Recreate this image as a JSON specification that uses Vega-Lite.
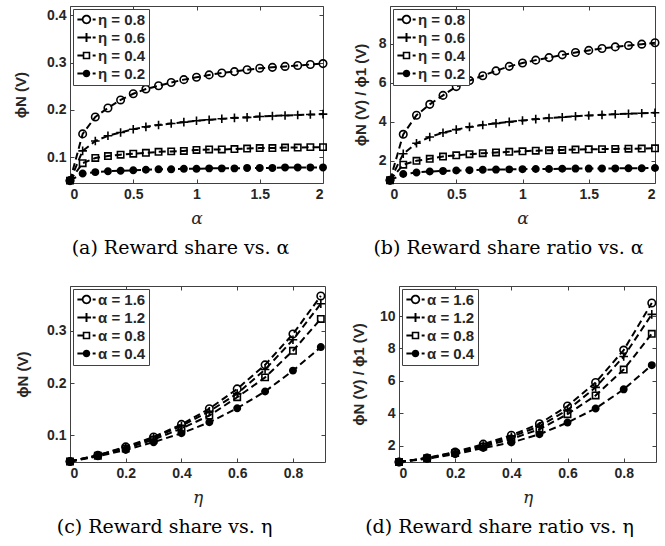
{
  "$schema": "https://vega.github.io/schema/vega-lite/v6.json",
  "padding": {"left": 12, "top": 5, "right": 5, "bottom": 0},
  "datasets": {
    "a": [
      {"x":0,"y":0.05,"s":"η = 0.8"},{"x":0.1,"y":0.149,"s":"η = 0.8"},{"x":0.2,"y":0.185,"s":"η = 0.8"},{"x":0.3,"y":0.204,"s":"η = 0.8"},{"x":0.4,"y":0.221,"s":"η = 0.8"},{"x":0.5,"y":0.234,"s":"η = 0.8"},{"x":0.6,"y":0.244,"s":"η = 0.8"},{"x":0.7,"y":0.251,"s":"η = 0.8"},{"x":0.8,"y":0.258,"s":"η = 0.8"},{"x":0.9,"y":0.264,"s":"η = 0.8"},{"x":1.0,"y":0.269,"s":"η = 0.8"},{"x":1.1,"y":0.274,"s":"η = 0.8"},{"x":1.2,"y":0.278,"s":"η = 0.8"},{"x":1.3,"y":0.281,"s":"η = 0.8"},{"x":1.4,"y":0.285,"s":"η = 0.8"},{"x":1.5,"y":0.288,"s":"η = 0.8"},{"x":1.6,"y":0.29,"s":"η = 0.8"},{"x":1.7,"y":0.292,"s":"η = 0.8"},{"x":1.8,"y":0.294,"s":"η = 0.8"},{"x":1.9,"y":0.296,"s":"η = 0.8"},{"x":2.0,"y":0.298,"s":"η = 0.8"},
      {"x":0,"y":0.05,"s":"η = 0.6"},{"x":0.1,"y":0.113,"s":"η = 0.6"},{"x":0.2,"y":0.134,"s":"η = 0.6"},{"x":0.3,"y":0.145,"s":"η = 0.6"},{"x":0.4,"y":0.152,"s":"η = 0.6"},{"x":0.5,"y":0.159,"s":"η = 0.6"},{"x":0.6,"y":0.164,"s":"η = 0.6"},{"x":0.7,"y":0.168,"s":"η = 0.6"},{"x":0.8,"y":0.171,"s":"η = 0.6"},{"x":0.9,"y":0.174,"s":"η = 0.6"},{"x":1.0,"y":0.177,"s":"η = 0.6"},{"x":1.1,"y":0.179,"s":"η = 0.6"},{"x":1.2,"y":0.181,"s":"η = 0.6"},{"x":1.3,"y":0.183,"s":"η = 0.6"},{"x":1.4,"y":0.184,"s":"η = 0.6"},{"x":1.5,"y":0.186,"s":"η = 0.6"},{"x":1.6,"y":0.187,"s":"η = 0.6"},{"x":1.7,"y":0.188,"s":"η = 0.6"},{"x":1.8,"y":0.189,"s":"η = 0.6"},{"x":1.9,"y":0.19,"s":"η = 0.6"},{"x":2.0,"y":0.191,"s":"η = 0.6"},
      {"x":0,"y":0.05,"s":"η = 0.4"},{"x":0.1,"y":0.087,"s":"η = 0.4"},{"x":0.2,"y":0.098,"s":"η = 0.4"},{"x":0.3,"y":0.102,"s":"η = 0.4"},{"x":0.4,"y":0.105,"s":"η = 0.4"},{"x":0.5,"y":0.107,"s":"η = 0.4"},{"x":0.6,"y":0.109,"s":"η = 0.4"},{"x":0.7,"y":0.111,"s":"η = 0.4"},{"x":0.8,"y":0.112,"s":"η = 0.4"},{"x":0.9,"y":0.113,"s":"η = 0.4"},{"x":1.0,"y":0.115,"s":"η = 0.4"},{"x":1.1,"y":0.116,"s":"η = 0.4"},{"x":1.2,"y":0.116,"s":"η = 0.4"},{"x":1.3,"y":0.117,"s":"η = 0.4"},{"x":1.4,"y":0.118,"s":"η = 0.4"},{"x":1.5,"y":0.119,"s":"η = 0.4"},{"x":1.6,"y":0.119,"s":"η = 0.4"},{"x":1.7,"y":0.12,"s":"η = 0.4"},{"x":1.8,"y":0.12,"s":"η = 0.4"},{"x":1.9,"y":0.121,"s":"η = 0.4"},{"x":2.0,"y":0.121,"s":"η = 0.4"},
      {"x":0,"y":0.05,"s":"η = 0.2"},{"x":0.1,"y":0.065,"s":"η = 0.2"},{"x":0.2,"y":0.068,"s":"η = 0.2"},{"x":0.3,"y":0.07,"s":"η = 0.2"},{"x":0.4,"y":0.071,"s":"η = 0.2"},{"x":0.5,"y":0.072,"s":"η = 0.2"},{"x":0.6,"y":0.073,"s":"η = 0.2"},{"x":0.7,"y":0.074,"s":"η = 0.2"},{"x":0.8,"y":0.074,"s":"η = 0.2"},{"x":0.9,"y":0.075,"s":"η = 0.2"},{"x":1.0,"y":0.075,"s":"η = 0.2"},{"x":1.1,"y":0.076,"s":"η = 0.2"},{"x":1.2,"y":0.076,"s":"η = 0.2"},{"x":1.3,"y":0.076,"s":"η = 0.2"},{"x":1.4,"y":0.077,"s":"η = 0.2"},{"x":1.5,"y":0.077,"s":"η = 0.2"},{"x":1.6,"y":0.077,"s":"η = 0.2"},{"x":1.7,"y":0.078,"s":"η = 0.2"},{"x":1.8,"y":0.078,"s":"η = 0.2"},{"x":1.9,"y":0.078,"s":"η = 0.2"},{"x":2.0,"y":0.078,"s":"η = 0.2"}
    ],
    "b": [
      {"x":0,"y":1,"s":"η = 0.8"},{"x":0.1,"y":3.36,"s":"η = 0.8"},{"x":0.2,"y":4.34,"s":"η = 0.8"},{"x":0.3,"y":4.9,"s":"η = 0.8"},{"x":0.4,"y":5.36,"s":"η = 0.8"},{"x":0.5,"y":5.81,"s":"η = 0.8"},{"x":0.6,"y":6.12,"s":"η = 0.8"},{"x":0.7,"y":6.37,"s":"η = 0.8"},{"x":0.8,"y":6.62,"s":"η = 0.8"},{"x":0.9,"y":6.85,"s":"η = 0.8"},{"x":1.0,"y":7.02,"s":"η = 0.8"},{"x":1.1,"y":7.17,"s":"η = 0.8"},{"x":1.2,"y":7.3,"s":"η = 0.8"},{"x":1.3,"y":7.44,"s":"η = 0.8"},{"x":1.4,"y":7.56,"s":"η = 0.8"},{"x":1.5,"y":7.67,"s":"η = 0.8"},{"x":1.6,"y":7.77,"s":"η = 0.8"},{"x":1.7,"y":7.85,"s":"η = 0.8"},{"x":1.8,"y":7.92,"s":"η = 0.8"},{"x":1.9,"y":7.99,"s":"η = 0.8"},{"x":2.0,"y":8.06,"s":"η = 0.8"},
      {"x":0,"y":1,"s":"η = 0.6"},{"x":0.1,"y":2.36,"s":"η = 0.6"},{"x":0.2,"y":2.9,"s":"η = 0.6"},{"x":0.3,"y":3.22,"s":"η = 0.6"},{"x":0.4,"y":3.44,"s":"η = 0.6"},{"x":0.5,"y":3.6,"s":"η = 0.6"},{"x":0.6,"y":3.74,"s":"η = 0.6"},{"x":0.7,"y":3.84,"s":"η = 0.6"},{"x":0.8,"y":3.92,"s":"η = 0.6"},{"x":0.9,"y":4.0,"s":"η = 0.6"},{"x":1.0,"y":4.07,"s":"η = 0.6"},{"x":1.1,"y":4.14,"s":"η = 0.6"},{"x":1.2,"y":4.2,"s":"η = 0.6"},{"x":1.3,"y":4.24,"s":"η = 0.6"},{"x":1.4,"y":4.29,"s":"η = 0.6"},{"x":1.5,"y":4.33,"s":"η = 0.6"},{"x":1.6,"y":4.36,"s":"η = 0.6"},{"x":1.7,"y":4.39,"s":"η = 0.6"},{"x":1.8,"y":4.42,"s":"η = 0.6"},{"x":1.9,"y":4.44,"s":"η = 0.6"},{"x":2.0,"y":4.47,"s":"η = 0.6"},
      {"x":0,"y":1,"s":"η = 0.4"},{"x":0.1,"y":1.8,"s":"η = 0.4"},{"x":0.2,"y":2.0,"s":"η = 0.4"},{"x":0.3,"y":2.1,"s":"η = 0.4"},{"x":0.4,"y":2.22,"s":"η = 0.4"},{"x":0.5,"y":2.28,"s":"η = 0.4"},{"x":0.6,"y":2.34,"s":"η = 0.4"},{"x":0.7,"y":2.39,"s":"η = 0.4"},{"x":0.8,"y":2.43,"s":"η = 0.4"},{"x":0.9,"y":2.46,"s":"η = 0.4"},{"x":1.0,"y":2.49,"s":"η = 0.4"},{"x":1.1,"y":2.52,"s":"η = 0.4"},{"x":1.2,"y":2.54,"s":"η = 0.4"},{"x":1.3,"y":2.56,"s":"η = 0.4"},{"x":1.4,"y":2.58,"s":"η = 0.4"},{"x":1.5,"y":2.59,"s":"η = 0.4"},{"x":1.6,"y":2.6,"s":"η = 0.4"},{"x":1.7,"y":2.61,"s":"η = 0.4"},{"x":1.8,"y":2.62,"s":"η = 0.4"},{"x":1.9,"y":2.63,"s":"η = 0.4"},{"x":2.0,"y":2.64,"s":"η = 0.4"},
      {"x":0,"y":1,"s":"η = 0.2"},{"x":0.1,"y":1.32,"s":"η = 0.2"},{"x":0.2,"y":1.4,"s":"η = 0.2"},{"x":0.3,"y":1.45,"s":"η = 0.2"},{"x":0.4,"y":1.48,"s":"η = 0.2"},{"x":0.5,"y":1.5,"s":"η = 0.2"},{"x":0.6,"y":1.52,"s":"η = 0.2"},{"x":0.7,"y":1.54,"s":"η = 0.2"},{"x":0.8,"y":1.55,"s":"η = 0.2"},{"x":0.9,"y":1.56,"s":"η = 0.2"},{"x":1.0,"y":1.57,"s":"η = 0.2"},{"x":1.1,"y":1.58,"s":"η = 0.2"},{"x":1.2,"y":1.58,"s":"η = 0.2"},{"x":1.3,"y":1.59,"s":"η = 0.2"},{"x":1.4,"y":1.6,"s":"η = 0.2"},{"x":1.5,"y":1.6,"s":"η = 0.2"},{"x":1.6,"y":1.61,"s":"η = 0.2"},{"x":1.7,"y":1.61,"s":"η = 0.2"},{"x":1.8,"y":1.62,"s":"η = 0.2"},{"x":1.9,"y":1.62,"s":"η = 0.2"},{"x":2.0,"y":1.63,"s":"η = 0.2"}
    ],
    "c": [
      {"x":0,"y":0.05,"s":"α = 1.6"},{"x":0.1,"y":0.062,"s":"α = 1.6"},{"x":0.2,"y":0.078,"s":"α = 1.6"},{"x":0.3,"y":0.097,"s":"α = 1.6"},{"x":0.4,"y":0.121,"s":"α = 1.6"},{"x":0.5,"y":0.151,"s":"α = 1.6"},{"x":0.6,"y":0.189,"s":"α = 1.6"},{"x":0.7,"y":0.235,"s":"α = 1.6"},{"x":0.8,"y":0.294,"s":"α = 1.6"},{"x":0.9,"y":0.367,"s":"α = 1.6"},
      {"x":0,"y":0.05,"s":"α = 1.2"},{"x":0.1,"y":0.062,"s":"α = 1.2"},{"x":0.2,"y":0.077,"s":"α = 1.2"},{"x":0.3,"y":0.095,"s":"α = 1.2"},{"x":0.4,"y":0.118,"s":"α = 1.2"},{"x":0.5,"y":0.146,"s":"α = 1.2"},{"x":0.6,"y":0.18,"s":"α = 1.2"},{"x":0.7,"y":0.226,"s":"α = 1.2"},{"x":0.8,"y":0.283,"s":"α = 1.2"},{"x":0.9,"y":0.352,"s":"α = 1.2"},
      {"x":0,"y":0.05,"s":"α = 0.8"},{"x":0.1,"y":0.061,"s":"α = 0.8"},{"x":0.2,"y":0.075,"s":"α = 0.8"},{"x":0.3,"y":0.092,"s":"α = 0.8"},{"x":0.4,"y":0.113,"s":"α = 0.8"},{"x":0.5,"y":0.138,"s":"α = 0.8"},{"x":0.6,"y":0.173,"s":"α = 0.8"},{"x":0.7,"y":0.211,"s":"α = 0.8"},{"x":0.8,"y":0.262,"s":"α = 0.8"},{"x":0.9,"y":0.323,"s":"α = 0.8"},
      {"x":0,"y":0.05,"s":"α = 0.4"},{"x":0.1,"y":0.06,"s":"α = 0.4"},{"x":0.2,"y":0.072,"s":"α = 0.4"},{"x":0.3,"y":0.087,"s":"α = 0.4"},{"x":0.4,"y":0.104,"s":"α = 0.4"},{"x":0.5,"y":0.125,"s":"α = 0.4"},{"x":0.6,"y":0.152,"s":"α = 0.4"},{"x":0.7,"y":0.184,"s":"α = 0.4"},{"x":0.8,"y":0.224,"s":"α = 0.4"},{"x":0.9,"y":0.269,"s":"α = 0.4"}
    ],
    "d": [
      {"x":0,"y":1,"s":"α = 1.6"},{"x":0.1,"y":1.25,"s":"α = 1.6"},{"x":0.2,"y":1.62,"s":"α = 1.6"},{"x":0.3,"y":2.1,"s":"α = 1.6"},{"x":0.4,"y":2.65,"s":"α = 1.6"},{"x":0.5,"y":3.36,"s":"α = 1.6"},{"x":0.6,"y":4.45,"s":"α = 1.6"},{"x":0.7,"y":5.9,"s":"α = 1.6"},{"x":0.8,"y":7.9,"s":"α = 1.6"},{"x":0.9,"y":10.8,"s":"α = 1.6"},
      {"x":0,"y":1,"s":"α = 1.2"},{"x":0.1,"y":1.24,"s":"α = 1.2"},{"x":0.2,"y":1.58,"s":"α = 1.2"},{"x":0.3,"y":2.02,"s":"α = 1.2"},{"x":0.4,"y":2.55,"s":"α = 1.2"},{"x":0.5,"y":3.2,"s":"α = 1.2"},{"x":0.6,"y":4.2,"s":"α = 1.2"},{"x":0.7,"y":5.6,"s":"α = 1.2"},{"x":0.8,"y":7.5,"s":"α = 1.2"},{"x":0.9,"y":10.1,"s":"α = 1.2"},
      {"x":0,"y":1,"s":"α = 0.8"},{"x":0.1,"y":1.23,"s":"α = 0.8"},{"x":0.2,"y":1.55,"s":"α = 0.8"},{"x":0.3,"y":1.95,"s":"α = 0.8"},{"x":0.4,"y":2.42,"s":"α = 0.8"},{"x":0.5,"y":3.02,"s":"α = 0.8"},{"x":0.6,"y":3.95,"s":"α = 0.8"},{"x":0.7,"y":5.1,"s":"α = 0.8"},{"x":0.8,"y":6.7,"s":"α = 0.8"},{"x":0.9,"y":8.9,"s":"α = 0.8"},
      {"x":0,"y":1,"s":"α = 0.4"},{"x":0.1,"y":1.2,"s":"α = 0.4"},{"x":0.2,"y":1.48,"s":"α = 0.4"},{"x":0.3,"y":1.86,"s":"α = 0.4"},{"x":0.4,"y":2.2,"s":"α = 0.4"},{"x":0.5,"y":2.71,"s":"α = 0.4"},{"x":0.6,"y":3.43,"s":"α = 0.4"},{"x":0.7,"y":4.3,"s":"α = 0.4"},{"x":0.8,"y":5.48,"s":"α = 0.4"},{"x":0.9,"y":6.97,"s":"α = 0.4"}
    ]
  },
  "vconcat": [
    {
      "bounds": "flush",
      "spacing": 67,
      "hconcat": [
        {
          "width": 253, "height": 177,
          "data": {"name": "a"},
          "title": {"text": "(a) Reward share vs. α", "orient": "bottom", "frame": "group", "anchor": "middle", "dx": -16, "offset": 13},
          "layer": [
            {"mark": {"type": "line", "color": "black", "strokeWidth": 2, "strokeDash": [7, 4]},
             "encoding": {
               "x": {"field": "x", "type": "quantitative", "scale": {"domain": [0, 2], "nice": false, "zero": false}, "axis": {"values": [0, 0.5, 1, 1.5, 2], "format": "~g", "title": "α"}},
               "y": {"field": "y", "type": "quantitative", "scale": {"domain": [0.045, 0.42], "nice": false, "zero": false}, "axis": {"values": [0.1, 0.2, 0.3, 0.4], "format": ".1f", "title": "ϕN (V)", "minExtent": 30, "maxExtent": 30, "titlePadding": 12}},
               "detail": {"field": "s", "type": "nominal"}
             }},
            {"mark": {"type": "point", "filled": true, "fill": "black", "stroke": "black", "strokeWidth": 1.6, "size": 56, "opacity": 1},
             "encoding": {
               "x": {"field": "x", "type": "quantitative", "axis": {"orient": "top", "values": [0, 0.5, 1, 1.5, 2], "labels": false, "title": null}},
               "y": {"field": "y", "type": "quantitative", "axis": {"orient": "right", "values": [0.1, 0.2, 0.3, 0.4], "labels": false, "title": null}},
               "shape": {"field": "s", "type": "nominal", "scale": {"domain": ["η = 0.8", "η = 0.6", "η = 0.4", "η = 0.2"], "range": ["M-1,0A1,1 0 1,1 1,0A1,1 0 1,1 -1,0ZM-1,0A1,1 0 1,0 1,0A1,1 0 1,0 -1,0Z", "M-1.15,0H1.15M0,-1.15V1.15", "M-0.85,-0.85H0.85V0.85H-0.85ZM-0.85,-0.85V0.85H0.85V-0.85Z", "M-0.85,0A0.85,0.85 0 1,1 0.85,0A0.85,0.85 0 1,1 -0.85,0Z"]}, "legend": null}
             }},
            {"data": {"values": []},
             "mark": {"type": "point", "filled": true, "fill": "black", "strokeWidth": 0},
             "encoding": {
               "shape": {"field": "s", "type": "nominal", "scale": {"domain": ["η = 0.8", "η = 0.6", "η = 0.4", "η = 0.2"], "range": ["M-1.4,-0.15H-0.62V0.15H-1.4ZM-0.72,0A0.72,0.72 0 1,1 0.72,0A0.72,0.72 0 1,1 -0.72,0ZM-0.46,0A0.46,0.46 0 1,0 0.46,0A0.46,0.46 0 1,0 -0.46,0ZM0.95,-0.15H1.4V0.15H0.95Z", "M-1.4,-0.15H0.7V0.15H-1.4ZM-0.15,-0.7H0.15V0.7H-0.15ZM0.95,-0.15H1.4V0.15H0.95Z", "M-1.4,-0.15H-0.55V0.15H-1.4ZM-0.58,-0.58H0.58V0.58H-0.58ZM-0.33,-0.33V0.33H0.33V-0.33ZM0.95,-0.15H1.4V0.15H0.95Z", "M-1.4,-0.15H-0.5V0.15H-1.4ZM-0.58,0A0.58,0.58 0 1,1 0.58,0A0.58,0.58 0 1,1 -0.58,0ZM0.95,-0.15H1.4V0.15H0.95Z"]}, "legend": {"title": null}}
             }}
          ],
          "resolve": {"scale": {"shape": "independent"}, "axis": {"x": "independent", "y": "independent"}}
        },
        {
          "width": 265, "height": 177,
          "data": {"name": "b"},
          "title": {"text": "(b) Reward share ratio vs. α", "orient": "bottom", "frame": "group", "anchor": "middle", "dx": -14, "offset": 13},
          "layer": [
            {"mark": {"type": "line", "color": "black", "strokeWidth": 2, "strokeDash": [7, 4]},
             "encoding": {
               "x": {"field": "x", "type": "quantitative", "scale": {"domain": [0, 2], "nice": false, "zero": false}, "axis": {"values": [0, 0.5, 1, 1.5, 2], "format": "~g", "title": "α"}},
               "y": {"field": "y", "type": "quantitative", "scale": {"domain": [0.86, 9.95], "nice": false, "zero": false}, "axis": {"values": [2, 4, 6, 8], "format": "d", "title": "ϕN (V) / ϕ1 (V)", "minExtent": 13, "maxExtent": 13, "titlePadding": 9}},
               "detail": {"field": "s", "type": "nominal"}
             }},
            {"mark": {"type": "point", "filled": true, "fill": "black", "stroke": "black", "strokeWidth": 1.6, "size": 56, "opacity": 1},
             "encoding": {
               "x": {"field": "x", "type": "quantitative", "axis": {"orient": "top", "values": [0, 0.5, 1, 1.5, 2], "labels": false, "title": null}},
               "y": {"field": "y", "type": "quantitative", "axis": {"orient": "right", "values": [2, 4, 6, 8], "labels": false, "title": null}},
               "shape": {"field": "s", "type": "nominal", "scale": {"domain": ["η = 0.8", "η = 0.6", "η = 0.4", "η = 0.2"], "range": ["M-1,0A1,1 0 1,1 1,0A1,1 0 1,1 -1,0ZM-1,0A1,1 0 1,0 1,0A1,1 0 1,0 -1,0Z", "M-1.15,0H1.15M0,-1.15V1.15", "M-0.85,-0.85H0.85V0.85H-0.85ZM-0.85,-0.85V0.85H0.85V-0.85Z", "M-0.85,0A0.85,0.85 0 1,1 0.85,0A0.85,0.85 0 1,1 -0.85,0Z"]}, "legend": null}
             }},
            {"data": {"values": []},
             "mark": {"type": "point", "filled": true, "fill": "black", "strokeWidth": 0},
             "encoding": {
               "shape": {"field": "s", "type": "nominal", "scale": {"domain": ["η = 0.8", "η = 0.6", "η = 0.4", "η = 0.2"], "range": ["M-1.4,-0.15H-0.62V0.15H-1.4ZM-0.72,0A0.72,0.72 0 1,1 0.72,0A0.72,0.72 0 1,1 -0.72,0ZM-0.46,0A0.46,0.46 0 1,0 0.46,0A0.46,0.46 0 1,0 -0.46,0ZM0.95,-0.15H1.4V0.15H0.95Z", "M-1.4,-0.15H0.7V0.15H-1.4ZM-0.15,-0.7H0.15V0.7H-0.15ZM0.95,-0.15H1.4V0.15H0.95Z", "M-1.4,-0.15H-0.55V0.15H-1.4ZM-0.58,-0.58H0.58V0.58H-0.58ZM-0.33,-0.33V0.33H0.33V-0.33ZM0.95,-0.15H1.4V0.15H0.95Z", "M-1.4,-0.15H-0.5V0.15H-1.4ZM-0.58,0A0.58,0.58 0 1,1 0.58,0A0.58,0.58 0 1,1 -0.58,0ZM0.95,-0.15H1.4V0.15H0.95Z"]}, "legend": {"title": null}}
             }}
          ],
          "resolve": {"scale": {"shape": "independent"}, "axis": {"x": "independent", "y": "independent"}}
        }
      ]
    },
    {
      "bounds": "flush",
      "spacing": 74,
      "hconcat": [
        {
          "width": 255, "height": 176,
          "data": {"name": "c"},
          "title": {"text": "(c) Reward share vs. η", "orient": "bottom", "frame": "group", "anchor": "middle", "dx": -33, "offset": 13},
          "layer": [
            {"mark": {"type": "line", "color": "black", "strokeWidth": 2, "strokeDash": [7, 4]},
             "encoding": {
               "x": {"field": "x", "type": "quantitative", "scale": {"domain": [0, 0.915], "nice": false, "zero": false}, "axis": {"values": [0, 0.2, 0.4, 0.6, 0.8], "format": "~g", "title": "η"}},
               "y": {"field": "y", "type": "quantitative", "scale": {"domain": [0.049, 0.386], "nice": false, "zero": false}, "axis": {"values": [0.1, 0.2, 0.3], "format": ".1f", "title": "ϕN (V)", "minExtent": 30, "maxExtent": 30, "titlePadding": 10}},
               "detail": {"field": "s", "type": "nominal"}
             }},
            {"mark": {"type": "point", "filled": true, "fill": "black", "stroke": "black", "strokeWidth": 1.6, "size": 56, "opacity": 1},
             "encoding": {
               "x": {"field": "x", "type": "quantitative", "axis": {"orient": "top", "values": [0, 0.2, 0.4, 0.6, 0.8], "labels": false, "title": null}},
               "y": {"field": "y", "type": "quantitative", "axis": {"orient": "right", "values": [0.1, 0.2, 0.3], "labels": false, "title": null}},
               "shape": {"field": "s", "type": "nominal", "scale": {"domain": ["α = 1.6", "α = 1.2", "α = 0.8", "α = 0.4"], "range": ["M-1,0A1,1 0 1,1 1,0A1,1 0 1,1 -1,0ZM-1,0A1,1 0 1,0 1,0A1,1 0 1,0 -1,0Z", "M-1.15,0H1.15M0,-1.15V1.15", "M-0.85,-0.85H0.85V0.85H-0.85ZM-0.85,-0.85V0.85H0.85V-0.85Z", "M-0.85,0A0.85,0.85 0 1,1 0.85,0A0.85,0.85 0 1,1 -0.85,0Z"]}, "legend": null}
             }},
            {"data": {"values": []},
             "mark": {"type": "point", "filled": true, "fill": "black", "strokeWidth": 0},
             "encoding": {
               "shape": {"field": "s", "type": "nominal", "scale": {"domain": ["α = 1.6", "α = 1.2", "α = 0.8", "α = 0.4"], "range": ["M-1.4,-0.15H-0.62V0.15H-1.4ZM-0.72,0A0.72,0.72 0 1,1 0.72,0A0.72,0.72 0 1,1 -0.72,0ZM-0.46,0A0.46,0.46 0 1,0 0.46,0A0.46,0.46 0 1,0 -0.46,0ZM0.95,-0.15H1.4V0.15H0.95Z", "M-1.4,-0.15H0.7V0.15H-1.4ZM-0.15,-0.7H0.15V0.7H-0.15ZM0.95,-0.15H1.4V0.15H0.95Z", "M-1.4,-0.15H-0.55V0.15H-1.4ZM-0.58,-0.58H0.58V0.58H-0.58ZM-0.33,-0.33V0.33H0.33V-0.33ZM0.95,-0.15H1.4V0.15H0.95Z", "M-1.4,-0.15H-0.5V0.15H-1.4ZM-0.58,0A0.58,0.58 0 1,1 0.58,0A0.58,0.58 0 1,1 -0.58,0ZM0.95,-0.15H1.4V0.15H0.95Z"]}, "legend": {"title": null}}
             }}
          ],
          "resolve": {"scale": {"shape": "independent"}, "axis": {"x": "independent", "y": "independent"}}
        },
        {
          "width": 257, "height": 176,
          "data": {"name": "d"},
          "title": {"text": "(d) Reward share ratio vs. η", "orient": "bottom", "frame": "group", "anchor": "middle", "dx": -28, "offset": 13},
          "layer": [
            {"mark": {"type": "line", "color": "black", "strokeWidth": 2, "strokeDash": [7, 4]},
             "encoding": {
               "x": {"field": "x", "type": "quantitative", "scale": {"domain": [0, 0.915], "nice": false, "zero": false}, "axis": {"values": [0, 0.2, 0.4, 0.6, 0.8], "format": "~g", "title": "η"}},
               "y": {"field": "y", "type": "quantitative", "scale": {"domain": [1, 11.85], "nice": false, "zero": false}, "axis": {"values": [2, 4, 6, 8, 10], "format": "d", "title": "ϕN (V) / ϕ1 (V)", "minExtent": 21, "maxExtent": 21, "titlePadding": 12}},
               "detail": {"field": "s", "type": "nominal"}
             }},
            {"mark": {"type": "point", "filled": true, "fill": "black", "stroke": "black", "strokeWidth": 1.6, "size": 56, "opacity": 1},
             "encoding": {
               "x": {"field": "x", "type": "quantitative", "axis": {"orient": "top", "values": [0, 0.2, 0.4, 0.6, 0.8], "labels": false, "title": null}},
               "y": {"field": "y", "type": "quantitative", "axis": {"orient": "right", "values": [2, 4, 6, 8, 10], "labels": false, "title": null}},
               "shape": {"field": "s", "type": "nominal", "scale": {"domain": ["α = 1.6", "α = 1.2", "α = 0.8", "α = 0.4"], "range": ["M-1,0A1,1 0 1,1 1,0A1,1 0 1,1 -1,0ZM-1,0A1,1 0 1,0 1,0A1,1 0 1,0 -1,0Z", "M-1.15,0H1.15M0,-1.15V1.15", "M-0.85,-0.85H0.85V0.85H-0.85ZM-0.85,-0.85V0.85H0.85V-0.85Z", "M-0.85,0A0.85,0.85 0 1,1 0.85,0A0.85,0.85 0 1,1 -0.85,0Z"]}, "legend": null}
             }},
            {"data": {"values": []},
             "mark": {"type": "point", "filled": true, "fill": "black", "strokeWidth": 0},
             "encoding": {
               "shape": {"field": "s", "type": "nominal", "scale": {"domain": ["α = 1.6", "α = 1.2", "α = 0.8", "α = 0.4"], "range": ["M-1.4,-0.15H-0.62V0.15H-1.4ZM-0.72,0A0.72,0.72 0 1,1 0.72,0A0.72,0.72 0 1,1 -0.72,0ZM-0.46,0A0.46,0.46 0 1,0 0.46,0A0.46,0.46 0 1,0 -0.46,0ZM0.95,-0.15H1.4V0.15H0.95Z", "M-1.4,-0.15H0.7V0.15H-1.4ZM-0.15,-0.7H0.15V0.7H-0.15ZM0.95,-0.15H1.4V0.15H0.95Z", "M-1.4,-0.15H-0.55V0.15H-1.4ZM-0.58,-0.58H0.58V0.58H-0.58ZM-0.33,-0.33V0.33H0.33V-0.33ZM0.95,-0.15H1.4V0.15H0.95Z", "M-1.4,-0.15H-0.5V0.15H-1.4ZM-0.58,0A0.58,0.58 0 1,1 0.58,0A0.58,0.58 0 1,1 -0.58,0ZM0.95,-0.15H1.4V0.15H0.95Z"]}, "legend": {"title": null}}
             }}
          ],
          "resolve": {"scale": {"shape": "independent"}, "axis": {"x": "independent", "y": "independent"}}
        }
      ]
    }
  ],
  "spacing": 26,
  "config": {
    "view": {"stroke": "#404040", "strokeWidth": 1},
    "axis": {"domain": false, "grid": false, "tickSize": -4, "tickColor": "#404040", "tickWidth": 1, "labelFont": "Liberation Sans", "labelFontWeight": "bold", "labelFontSize": 14, "labelColor": "#262626", "labelPadding": 8, "titleColor": "#262626"},
    "axisX": {"titleFont": "DejaVu Serif", "titleFontStyle": "italic", "titleFontWeight": "normal", "titleFontSize": 17, "titlePadding": 9},
    "axisY": {"titleFont": "Liberation Sans", "titleFontWeight": "bold", "titleFontSize": 15},
    "title": {"font": "DejaVu Serif", "fontSize": 19, "fontWeight": "normal", "color": "black"},
    "legend": {"orient": "top-left", "offset": 3, "padding": 3, "strokeColor": "#404040", "fillColor": "white", "symbolSize": 169, "symbolStrokeWidth": 0, "symbolFillColor": "black", "symbolOpacity": 1, "symbolOffset": 3, "labelOffset": 4, "labelFont": "Liberation Sans", "labelFontWeight": "bold", "labelFontSize": 15, "labelColor": "#262626", "rowPadding": 2}
  }
}
